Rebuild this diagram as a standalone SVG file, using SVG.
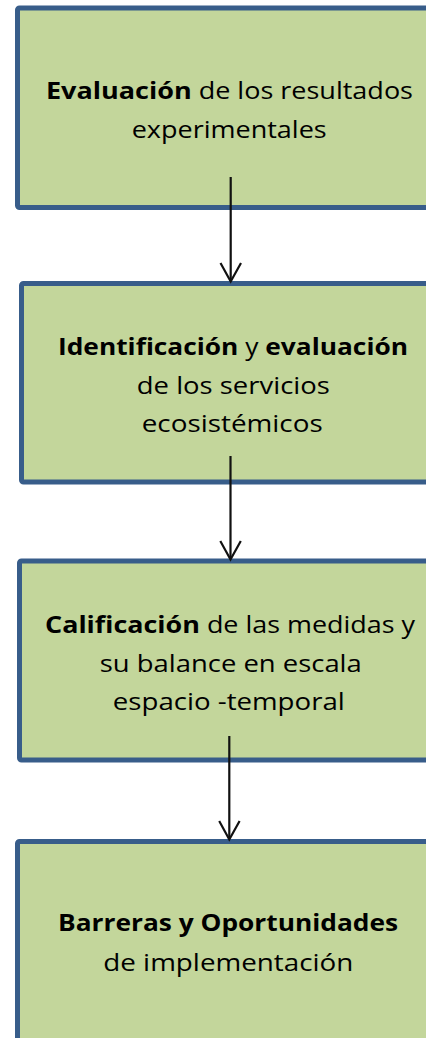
<svg xmlns="http://www.w3.org/2000/svg" width="426" height="1038" viewBox="0 0 426 1038">
<defs>
<style>
.box{fill:#C3D69B;stroke:#385D8A;stroke-width:5;}
.t{font-family:"Open Sans",Lato,sans-serif;font-size:24px;fill:#000;text-anchor:middle;}
.b{font-weight:bold;}
.c{stroke:#111;stroke-width:2.2;fill:none;}
</style>
</defs>
<rect width="426" height="1038" fill="#fff"/>
<g id="node1">
<rect class="box" x="17.5" y="8" width="425" height="199.5" rx="2"/>
<text class="t" x="229.5" y="99" textLength="367" lengthAdjust="spacingAndGlyphs"><tspan class="b">Evaluación</tspan> de los resultados</text>
<text class="t" x="229.2" y="137.5" textLength="195" lengthAdjust="spacingAndGlyphs">experimentales</text>
</g>
<g id="node2">
<rect class="box" x="21.5" y="283.5" width="425" height="198.5" rx="2"/>
<text class="t" x="233" y="355" textLength="350" lengthAdjust="spacingAndGlyphs"><tspan class="b">Identificación</tspan> y <tspan class="b">evaluación</tspan></text>
<text class="t" x="233.3" y="394" textLength="193" lengthAdjust="spacingAndGlyphs">de los servicios</text>
<text class="t" x="232.2" y="432" textLength="181" lengthAdjust="spacingAndGlyphs">ecosistémicos</text>
</g>
<g id="node3">
<rect class="box" x="19.5" y="561" width="425" height="199" rx="2"/>
<text class="t" x="230" y="633" textLength="370" lengthAdjust="spacingAndGlyphs"><tspan class="b">Calificación</tspan> de las medidas y</text>
<text class="t" x="230.8" y="671.7" textLength="262" lengthAdjust="spacingAndGlyphs">su balance en escala</text>
<text class="t" x="228.8" y="710" textLength="232" lengthAdjust="spacingAndGlyphs">espacio -temporal</text>
</g>
<g id="node4">
<rect class="box" x="17.5" y="841.5" width="425" height="205" rx="2"/>
<text class="t b" x="228" y="931" textLength="340" lengthAdjust="spacingAndGlyphs">Barreras y Oportunidades</text>
<text class="t" x="228.3" y="971" textLength="250" lengthAdjust="spacingAndGlyphs">de implementación</text>
</g>
<g id="connectors">
<path class="c" d="M230.7 177 V281"/>
<path class="c" d="M220.5 263 L230.7 281.5 L241 263"/>
<path class="c" d="M230.5 456 V559"/>
<path class="c" d="M220.3 541 L230.5 559.5 L240.8 541"/>
<path class="c" d="M229.3 736 V839"/>
<path class="c" d="M219.2 821 L229.3 839.5 L239.6 821"/>
</g>
</svg>
